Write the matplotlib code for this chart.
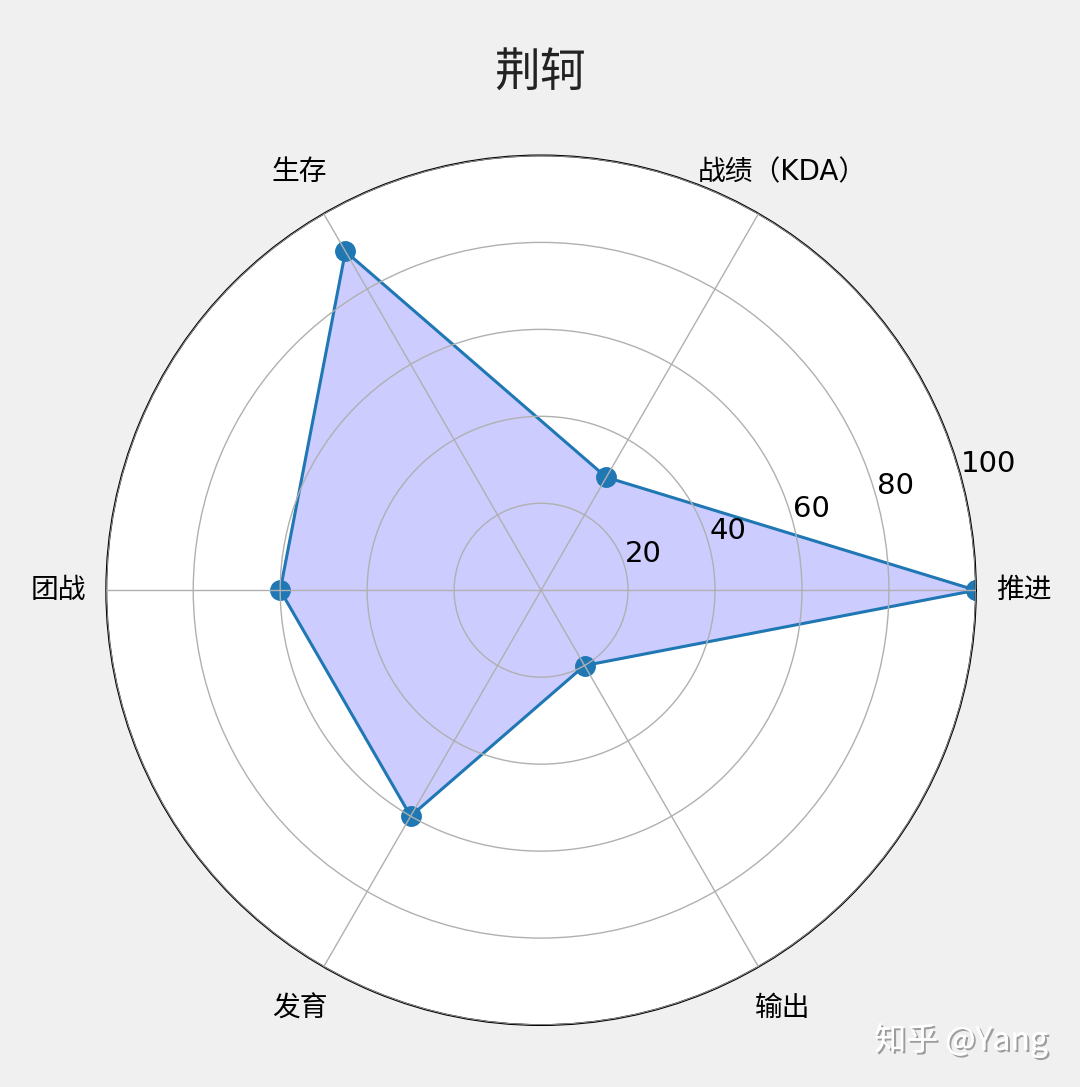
import numpy as np
import matplotlib
matplotlib.use("Agg")
import matplotlib.pyplot as plt
import matplotlib.patheffects as pe

plt.rcParams['font.family'] = ['DejaVu Sans', 'Noto Sans CJK SC']

labels = ['推进', '战绩（KDA）', '生存', '团战', '发育', '输出']
values = [100, 30, 90, 60, 60, 20]
rticks = [20, 40, 60, 80, 100]

angles = np.linspace(0, 2 * np.pi, len(labels), endpoint=False)
ang = np.concatenate([angles, angles[:1]])
vals = np.concatenate([values, values[:1]])

fig = plt.figure(figsize=(10.8, 10.87), dpi=100, facecolor='#f0f0f0')
ax = fig.add_axes([0.098, 0.057, 0.806, 0.800], polar=True)

ax.plot(ang, vals, 'o-', color='#1f77b4', linewidth=2.2, markersize=14)
ax.fill(ang, vals, color='#ccccff', alpha=1.0, zorder=1)

ax.set_thetagrids(np.degrees(angles), labels, fontsize=20)
ax.tick_params(axis='x', pad=24)
ax.set_ylim(0, 100)
ax.set_yticks(rticks)
ax.set_yticklabels([str(t) for t in rticks], fontsize=21)
ax.set_rlabel_position(15)
for t in ax.get_yticklabels():
    t.set_ha('left')
    t.set_va('bottom')
ax.grid(True, color='#b0b0b0', linewidth=1)
ax.spines['polar'].set_linewidth(1.4)
ax.set_axisbelow(False)

fig.text(0.5, 0.933, '荆轲', ha='center', va='center', fontsize=33,
         family=['Noto Sans CJK SC'], color='#222222')

fig.text(0.89, 0.043, '知乎 @Yang', ha='center', va='center', fontsize=23,
         family=['Noto Sans CJK SC'], color='white',
         path_effects=[pe.withSimplePatchShadow(offset=(1.5, -1.5), shadow_rgbFace='#888888', alpha=0.8), pe.Normal()])

fig.savefig('out.png', dpi=100, facecolor=fig.get_facecolor())
